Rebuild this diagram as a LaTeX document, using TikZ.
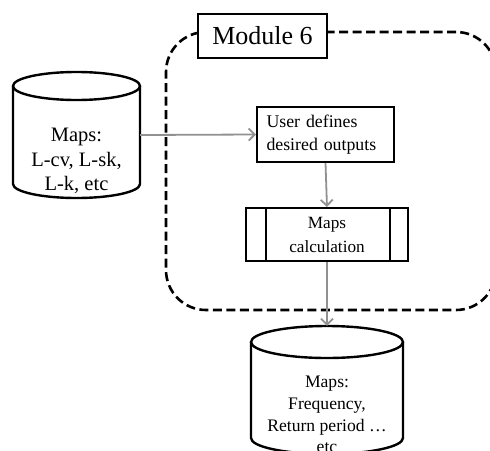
\documentclass[tikz,border=0pt]{standalone}
\usepackage{fontspec}
\setmainfont{Liberation Serif}
\usetikzlibrary{arrows.meta}
\definecolor{flowgray}{RGB}{145,145,145}
\begin{document}
\begin{tikzpicture}[x=1pt,y=-1pt,
  box/.style={draw, line width=2pt, fill=white, inner sep=0pt},
  cyl/.style={draw, line width=2.4pt, fill=white},
  frame/.style={draw, line width=2.6pt, dash pattern=on 9pt off 4.5pt, rounded corners=40pt, inner sep=0pt},
  flow/.style={draw=flowgray, line width=1.8pt, -{Straight Barb[length=6pt,width=12pt]}},
  ghost/.style={inner sep=0pt, align=center}]
\useasboundingbox (0,0) rectangle (490,450);
\clip (0,0) rectangle (490,450);

% module frame and its title
\node[frame, minimum width=330, minimum height=278] (frame) at (331,171) {};
\node[box, minimum width=129, minimum height=44, font=\fontsize{26}{30}\selectfont] (mod) at (262.5,36) {Module 6};

% input map store
\node[ghost, minimum width=127, minimum height=126] (src) at (76.5,135) {};
\draw[cyl] (13,86) -- (13,184) arc[start angle=180, end angle=0, x radius=63.5, y radius=14] -- (140,86);
\draw[cyl] (76.5,86) ellipse[x radius=63.5, y radius=14];
\node[ghost, font=\fontsize{20.5}{24.5}\selectfont] (srctext) at (76.5,161) {Maps:\\L-cv, L-sk,\\L-k, etc};

% processing steps
\node[box, minimum width=137, minimum height=55, align=left, text width=118,
      font=\fontsize{17.8}{23.5}\selectfont] (user) at (325.5,134.5) {User defines\\desired outputs};
\node[box, minimum width=162, minimum height=53, align=center,
      font=\fontsize{17.2}{24}\selectfont] (calc) at (327,234.5) {Maps\\calculation};
\draw[line width=2pt] ([xshift=21pt]calc.north west) -- ([xshift=21pt]calc.south west);
\draw[line width=2pt] ([xshift=-19pt]calc.north east) -- ([xshift=-19pt]calc.south east);

% output map store
\node[ghost, minimum width=152, minimum height=128] (dst) at (327,390) {};
\draw[cyl] (251,342) -- (251,438) arc[start angle=180, end angle=0, x radius=76, y radius=16] -- (403,342);
\draw[cyl] (327,342) ellipse[x radius=76, y radius=16];
\node[ghost, font=\fontsize{17.6}{21.7}\selectfont] (dsttext) at (327,414.5) {Maps:\\Frequency,\\Return period \dots\\etc};

% connectors
\draw[flow] (src.east) -- (user.west);
\draw[flow] (user.south) -- (calc.north);
\draw[flow] (calc.south) -- (dst.north);
\end{tikzpicture}
\end{document}
